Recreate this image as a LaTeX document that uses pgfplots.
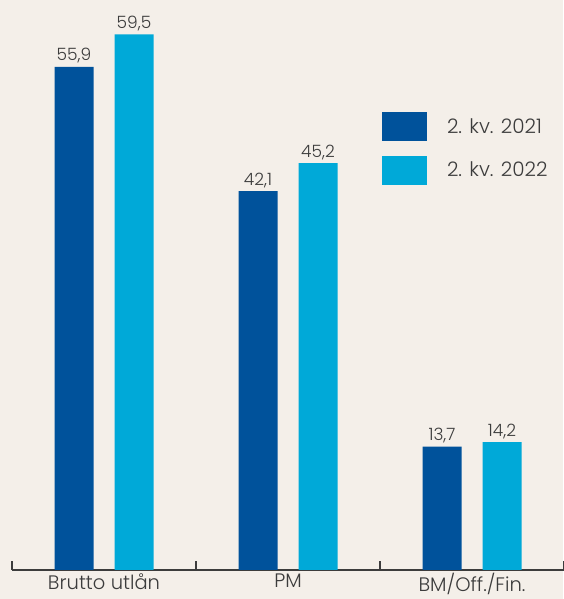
\documentclass[border=0pt]{standalone}
\usepackage{pgfplots}
\pgfplotsset{compat=1.18}
\usepackage{fontspec}
\setmainfont{Poppins Light}
\definecolor{bg}{HTML}{F4EFE9}
\definecolor{dblue}{HTML}{00529B}
\definecolor{lblue}{HTML}{00A9D8}
\definecolor{txt}{HTML}{3C3C3C}
\begin{document}
\begin{tikzpicture}
\path[use as bounding box, fill=bg] (0,0) rectangle (563pt,599pt);
\begin{axis}[
  at={(12pt,29pt)}, anchor=south west,
  scale only axis, width=552pt, height=570pt,
  xmin=-0.5, xmax=2.5, ymin=0, ymax=63.33,
  ybar, bar width=39pt,
  axis x line=bottom, axis y line=none,
  x axis line style={-, draw=txt, line width=1.6pt},
  xtick={0,1,2},
  xticklabels={Brutto utlån, PM, BM/Off./Fin.},
  major tick length=0pt,
  minor xtick={-0.5,0.5,1.5,2.5},
  minor tick length=9pt,
  tick align=inside,
  minor tick style={draw=txt, line width=1.3pt},
  xticklabel style={font=\fontsize{19.5}{23}\selectfont, text=txt, yshift=0pt},
  nodes near coords,
  every node near coord/.append style={font=\fontsize{17}{20}\selectfont, text=txt, /pgf/number format/.cd, use comma, fixed, precision=1, fixed zerofill, assume math mode=true},
  legend style={draw=none, fill=none, inner sep=0pt, at={(0.670,0.8035)}, anchor=north west,
    row sep=14.5pt, nodes={inner sep=0pt, anchor=west, font=\fontsize{20}{24}\selectfont, text=txt}},
  legend cell align=left,
]
\addplot[fill=dblue, draw=none, bar shift=-30pt,
  legend image code/.code={\fill[dblue] (0pt,-14.5pt) rectangle (45pt,14.5pt);}]
  coordinates {(0,55.9) (1,42.1) (2,13.7)};
\addplot[fill=lblue, draw=none, bar shift=30pt,
  legend image code/.code={\fill[lblue] (0pt,-14.5pt) rectangle (45pt,14.5pt);}]
  coordinates {(0,59.5) (1,45.2) (2,14.2)};
\legend{\hspace*{20pt}2. kv. 2021, \hspace*{20pt}2. kv. 2022}
\end{axis}
\end{tikzpicture}
\end{document}
